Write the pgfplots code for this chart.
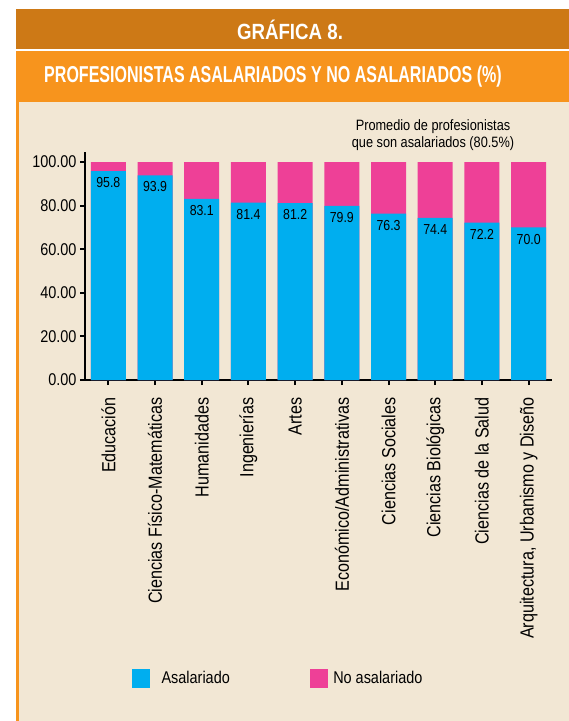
\documentclass[border=0pt]{standalone}
\usepackage{fontspec}
\setmainfont{Liberation Sans}[FakeStretch=0.85]
\usepackage{pgfplots}
\pgfplotsset{compat=1.18}
\usepackage{graphicx}
\definecolor{darkor}{HTML}{CD7916}
\definecolor{orng}{HTML}{F7941D}
\definecolor{beige}{HTML}{F2E7D4}
\definecolor{cyanbar}{HTML}{00AEEF}
\definecolor{magbar}{HTML}{EE4097}
\begin{document}
\begin{tikzpicture}
\begin{scope}[x=1pt,y=1pt]
\useasboundingbox (0,0) rectangle (569,721);
\fill[white] (0,0) rectangle (569,721);
\fill[darkor] (16,712) rectangle (569,672);
\fill[orng] (16,670) rectangle (569,619);
\fill[beige] (16,0) rectangle (569,619);
\fill[orng] (16,0) rectangle (19,619);
\node[white, font=\bfseries\fontsize{22}{24}\selectfont] at (290,691) {GRÁFICA 8.};
\node[white] at (273,644) {\bfseries\fontsize{23}{25}\selectfont\scalebox{0.82}[1]{PROFESIONISTAS ASALARIADOS Y NO ASALARIADOS (\%)}};
\node[align=center, font=\fontsize{15}{17}\selectfont] at (433,586) {Promedio de profesionistas\\que son asalariados (80.5\%)};
\end{scope}
\begin{axis}[
  at={(85pt,341pt)}, anchor=south west,
  scale only axis, width=467pt, height=228pt,
  xmin=-0.5, xmax=9.5, ymin=0, ymax=104.6,
  ybar, bar width=35pt, bar shift=0pt,
  axis x line*=bottom, axis y line*=left,
  axis line style={-, line width=2.2pt, black},
  tick align=outside, major tick length=5pt,
  tick style={black, line width=2pt},
  xtick={0,...,9},
  xticklabels={Educación, Ciencias Físico-Matemáticas, Humanidades, Ingenierías, Artes, Económico/Administrativas, Ciencias Sociales, Ciencias Biológicas, Ciencias de la Salud, {Arquitectura, Urbanismo y Diseño}},
  xticklabel shift=9pt,
  xticklabel style={rotate=90, anchor=east, font=\fontsize{19}{21}\selectfont},
  ytick={0,20,...,100},
  yticklabel style={font=\fontsize{17}{20}\selectfont, /pgf/number format/.cd, fixed, fixed zerofill, precision=2, assume math mode=true},
  legend style={at={(0.1006,-1.307)}, anchor=west, draw=none, fill=none, legend columns=2, inner sep=0pt, font=\fontsize{17}{20}\selectfont, /tikz/every even column/.append style={column sep=78pt}},
]
\addlegendimage{legend image code/.code={\fill[cyanbar] (0pt,-9pt) rectangle (17pt,9pt); \path (27pt,0pt);}}
\addlegendentry{Asalariado}
\addlegendimage{legend image code/.code={\fill[magbar] (0pt,-9pt) rectangle (17pt,9pt); \path (21pt,0pt);}}
\addlegendentry{No asalariado}
% stacked total (asalariado + no asalariado = 100)
\addplot[fill=magbar, draw=none, forget plot] coordinates {(0,100) (1,100) (2,100) (3,100) (4,100) (5,100) (6,100) (7,100) (8,100) (9,100)};
\addplot[fill=cyanbar, draw=none, forget plot, nodes near coords, nodes near coords style={anchor=north, yshift=-3pt, black, font=\fontsize{14.5}{16}\selectfont, /pgf/number format/.cd, fixed, fixed zerofill, precision=1, assume math mode=true}] coordinates {(0,95.8) (1,93.9) (2,83.1) (3,81.4) (4,81.2) (5,79.9) (6,76.3) (7,74.4) (8,72.2) (9,70.0)};
\end{axis}
\end{tikzpicture}
\end{document}
